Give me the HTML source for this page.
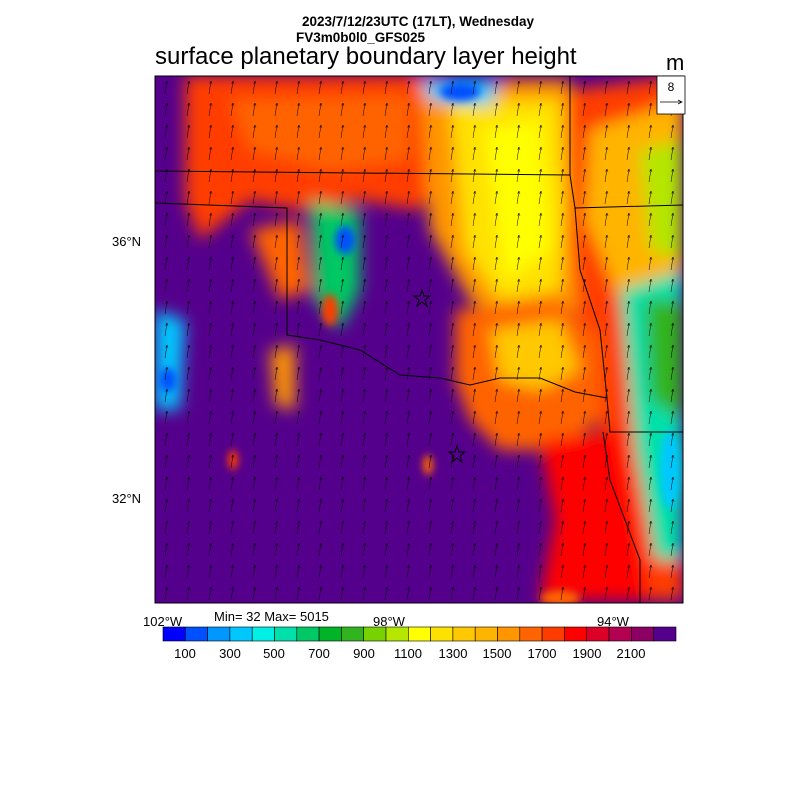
<!DOCTYPE html>
<html><head><style>
body{margin:0;background:#fff;}
svg{display:block}
text{font-family:"Liberation Sans",sans-serif;}
</style></head><body>
<svg width="800" height="800" viewBox="0 0 800 800" xmlns="http://www.w3.org/2000/svg">
<defs>
<filter id="b8" x="-50%" y="-50%" width="200%" height="200%"><feGaussianBlur stdDeviation="8"/></filter>
<filter id="b4" x="-50%" y="-50%" width="200%" height="200%"><feGaussianBlur stdDeviation="4"/></filter>
<clipPath id="pc"><rect x="155" y="76" width="528" height="527"/></clipPath>
<pattern id="arr" x="155" y="76" width="22" height="22" patternUnits="userSpaceOnUse">
<path d="M10 18 L12 5 M10.5 7.5 L12 5 L13 8" stroke="#000" stroke-width="0.5" fill="none"/>
</pattern>
</defs>
<text x="418" y="26" font-size="13.5" font-weight="bold" text-anchor="middle">2023/7/12/23UTC (17LT), Wednesday</text>
<text x="296" y="42" font-size="13.5" font-weight="bold">FV3m0b0l0_GFS025</text>
<text x="155" y="64" font-size="24">surface planetary boundary layer height</text>
<text x="666" y="70" font-size="22">m</text>
<g clip-path="url(#pc)">
<rect x="155" y="76" width="528" height="527" fill="#55008c"/>
<g filter="url(#b8)">
<path d="M185 76 L440 76 L460 140 L420 210 L360 200 L300 210 L250 200 L200 240 L185 200 Z" fill="#ff3c00"/>
<path d="M230 100 L410 95 L410 160 L330 170 L250 150 Z" fill="#ff6400"/>
<path d="M420 80 L570 80 L570 200 L600 300 L560 320 L510 330 L470 300 L430 230 Z" fill="#ff9600"/>
<path d="M450 100 L560 100 L565 200 L560 290 L500 300 L465 250 Z" fill="#ffe100"/>
<path d="M485 130 L540 120 L550 250 L505 280 Z" fill="#ffff00"/>
<path d="M570 90 L683 76 L683 600 L640 600 L600 520 L600 420 L580 340 L570 220 Z" fill="#ff3c00"/>
<path d="M590 130 L683 100 L683 280 L620 300 L585 220 Z" fill="#ffb400"/>
<path d="M640 150 L683 140 L683 260 L650 250 Z" fill="#b4e600"/>
<path d="M620 290 L683 270 L683 560 L655 560 L635 450 Z" fill="#00e0aa"/>
<path d="M645 300 L683 300 L683 420 L650 400 Z" fill="#32b41e"/>
<path d="M455 310 L560 300 L600 340 L600 420 L560 450 L500 450 L470 420 L455 380 Z" fill="#ff6400"/>
<path d="M490 330 L560 320 L580 370 L540 390 L500 380 Z" fill="#ffc800"/>
<path d="M540 440 L620 430 L650 600 L540 600 L555 520 Z" fill="#ff0000"/>
<path d="M310 200 L360 210 L360 290 L340 330 L315 300 Z" fill="#00c864"/>
<path d="M250 230 L300 220 L310 290 L280 300 Z" fill="#ff6400"/>
<path d="M270 350 L295 345 L295 410 L275 405 Z" fill="#ff9600"/>
<path d="M155 310 L185 320 L180 410 L155 410 Z" fill="#00c8ff"/>
<path d="M420 80 L500 80 L490 105 L430 100 Z" fill="#00c8ff"/>
</g>
<g filter="url(#b4)">
<ellipse cx="345" cy="240" rx="10" ry="14" fill="#0050ff"/>
<ellipse cx="460" cy="92" rx="20" ry="9" fill="#0050ff"/>
<ellipse cx="168" cy="380" rx="8" ry="12" fill="#0050ff"/>
<ellipse cx="670" cy="470" rx="10" ry="40" fill="#00c8ff"/>
<ellipse cx="428" cy="465" rx="5" ry="10" fill="#ff6400"/>
<ellipse cx="233" cy="460" rx="5" ry="10" fill="#ff3c00"/>
<ellipse cx="560" cy="598" rx="20" ry="8" fill="#ff6400"/>
<ellipse cx="330" cy="310" rx="8" ry="16" fill="#ff3c00"/>
</g>
<rect x="155" y="76" width="528" height="527" fill="url(#arr)"/>
<g stroke="#000" stroke-width="1" fill="none">
<path d="M155 171 L570 175"/>
<path d="M155 203 L287 208 L287 335 L320 340 L360 350 L400 375 L440 378 L470 385 L500 378 L540 378 L575 392 L607 398"/>
<path d="M570 76 L570 175 L575 208 L683 205"/>
<path d="M575 208 L580 270 L600 330 L607 398 L610 432 L683 432"/>
<path d="M603 432 L610 480 L625 520 L640 560 L640 603"/>
</g>
<path d="M422 290 l2 6 6 0 -5 4 2 6 -5 -4 -5 4 2 -6 -5 -4 6 0z" fill="none" stroke="#000"/>
<path d="M457 446 l2 6 6 0 -5 4 2 6 -5 -4 -5 4 2 -6 -5 -4 6 0z" fill="none" stroke="#000"/>
</g>
<rect x="155" y="76" width="528" height="527" fill="none" stroke="#000" stroke-width="1"/>
<rect x="657" y="76" width="28" height="38" fill="#fff" stroke="#000" stroke-width="0.8"/>
<text x="671" y="91" font-size="12" text-anchor="middle">8</text>
<path d="M660 102 L682 102 M678 100 L682 102 L678 104" stroke="#000" stroke-width="0.7" fill="none"/>
<text x="112" y="246" font-size="13">36°N</text>
<text x="112" y="503" font-size="13">32°N</text>
<text x="143" y="626" font-size="13">102°W</text>
<text x="373" y="626" font-size="13">98°W</text>
<text x="597" y="626" font-size="13">94°W</text>
<text x="214" y="621" font-size="13">Min= 32 Max= 5015</text>
<g stroke="#000" stroke-width="0.6">
<rect x="163.0" y="627" width="22.3" height="14" fill="#0000ff"/>
<rect x="185.3" y="627" width="22.3" height="14" fill="#0050ff"/>
<rect x="207.6" y="627" width="22.3" height="14" fill="#0096ff"/>
<rect x="229.9" y="627" width="22.3" height="14" fill="#00c8ff"/>
<rect x="252.2" y="627" width="22.3" height="14" fill="#00f0e6"/>
<rect x="274.5" y="627" width="22.3" height="14" fill="#00e0aa"/>
<rect x="296.8" y="627" width="22.3" height="14" fill="#00c864"/>
<rect x="319.1" y="627" width="22.3" height="14" fill="#00b428"/>
<rect x="341.4" y="627" width="22.3" height="14" fill="#32b41e"/>
<rect x="363.7" y="627" width="22.3" height="14" fill="#78d200"/>
<rect x="386.0" y="627" width="22.3" height="14" fill="#b4e600"/>
<rect x="408.3" y="627" width="22.3" height="14" fill="#ffff00"/>
<rect x="430.6" y="627" width="22.3" height="14" fill="#ffe100"/>
<rect x="452.9" y="627" width="22.3" height="14" fill="#ffc800"/>
<rect x="475.2" y="627" width="22.3" height="14" fill="#ffb400"/>
<rect x="497.5" y="627" width="22.3" height="14" fill="#ff9600"/>
<rect x="519.8" y="627" width="22.3" height="14" fill="#ff6400"/>
<rect x="542.1" y="627" width="22.3" height="14" fill="#ff3c00"/>
<rect x="564.4" y="627" width="22.3" height="14" fill="#ff0000"/>
<rect x="586.7" y="627" width="22.3" height="14" fill="#dc0028"/>
<rect x="609.0" y="627" width="22.3" height="14" fill="#b40050"/>
<rect x="631.3" y="627" width="22.3" height="14" fill="#8c0064"/>
<rect x="653.6" y="627" width="22.4" height="14" fill="#55008c"/>
</g>
<g font-size="13" text-anchor="middle">
<text x="185" y="658">100</text><text x="230" y="658">300</text><text x="274" y="658">500</text>
<text x="319" y="658">700</text><text x="364" y="658">900</text><text x="408" y="658">1100</text>
<text x="453" y="658">1300</text><text x="497" y="658">1500</text><text x="542" y="658">1700</text>
<text x="587" y="658">1900</text><text x="631" y="658">2100</text>
</g>
</svg>
</body></html>
